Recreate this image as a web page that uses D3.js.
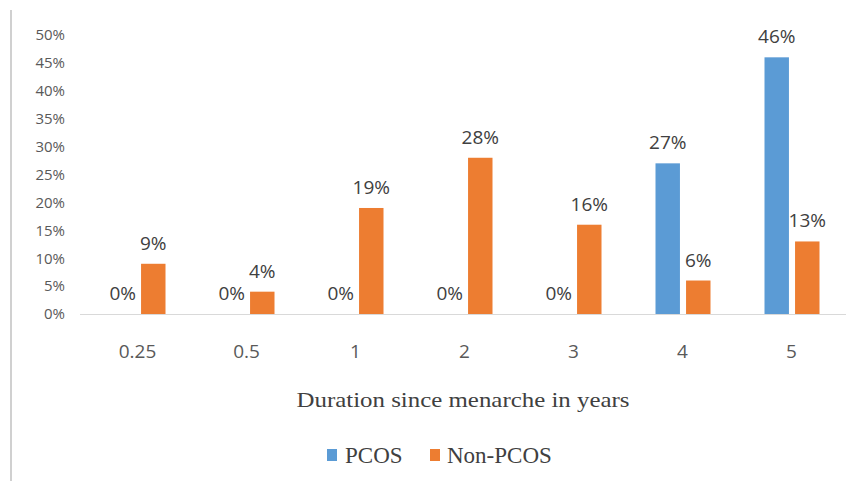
<!DOCTYPE html>
<html>
<head>
<meta charset="utf-8">
<script src="https://cdn.jsdelivr.net/npm/d3@7"></script>
<style>
  body { margin: 0; background: #fff; }
</style>
</head>
<body>
<div id="chart"></div>
<script>
var categories = ["0.25", "0.5", "1", "2", "3", "4", "5"];
var pcos = [0, 0, 0, 0, 0, 27, 46];
var nonPcos = [9, 4, 19, 28, 16, 6, 13];
var yTicks = [0, 5, 10, 15, 20, 25, 30, 35, 40, 45, 50];
var seriesNames = ["PCOS", "Non-PCOS"];
var colors = ["#5b9bd5", "#ed7d31"];

var svgWidth = 853;
var svgHeight = 481;
var labelFont = "'Open Sans', sans-serif";
var serifFont = "'Liberation Serif', 'Times New Roman', serif";

var svg = d3.select("#chart")
    .append("svg")
    .attr("width", svgWidth)
    .attr("height", svgHeight);

// left border line of the image
svg.append("line")
    .attr("x1", 11).attr("x2", 11)
    .attr("y1", 10).attr("y2", svgHeight)
    .attr("stroke", "#d0d0d0")
    .attr("stroke-width", 2);

var xScale = d3.scaleBand()
    .domain(categories)
    .range([83, 846]);

var yScale = d3.scaleLinear()
    .domain([0, 50])
    .range([314, 35]);

var subScale = d3.scaleBand()
    .domain(seriesNames)
    .range([-27, 28])
    .paddingInner(0.2);

// y axis labels
var yAxis = d3.axisLeft(yScale)
    .tickValues(yTicks)
    .tickFormat(d => d + "%")
    .tickSize(0)
    .tickPadding(0);

var yG = svg.append("g")
    .attr("transform", "translate(65,0)")
    .call(yAxis);
yG.select(".domain").remove();
yG.selectAll("text")
    .attr("fill", "#595959")
    .style("font-family", labelFont)
    .style("font-size", "15px");

// x axis
var xAxis = d3.axisBottom(xScale).tickSize(0).tickPadding(30);
var xG = svg.append("g")
    .attr("transform", "translate(0," + yScale(0) + ")")
    .call(xAxis);
xG.select(".domain")
    .attr("stroke", "#d9d9d9")
    .attr("d", "M80,0.5H846");
xG.selectAll("text")
    .attr("fill", "#595959")
    .attr("dy", 0)
    .style("font-family", labelFont)
    .style("font-size", "19px");
xG.selectAll("text").attr("y", 44);

var rows = categories.map((c, i) => ({ cat: c, values: [pcos[i], nonPcos[i]] }));

var groups = svg.selectAll("g.cat")
    .data(rows)
    .enter()
    .append("g")
    .attr("class", "cat")
    .attr("transform", d => "translate(" + (xScale(d.cat) + xScale.bandwidth() / 2) + ",0)");

var bars = groups.selectAll("rect")
    .data(d => d.values.map((v, j) => ({ name: seriesNames[j], value: v, j: j })))
    .enter();

bars.append("rect")
    .attr("x", d => subScale(d.name))
    .attr("width", subScale.bandwidth())
    .attr("y", d => yScale(d.value))
    .attr("height", d => yScale(0) - yScale(d.value))
    .attr("fill", d => colors[d.j]);

bars.append("text")
    .attr("x", d => subScale(d.name) + subScale.bandwidth() / 2)
    .attr("y", d => yScale(d.value) - 14)
    .attr("text-anchor", "middle")
    .attr("fill", "#404040")
    .style("font-family", labelFont)
    .style("font-size", "19px")
    .text(d => d.value + "%");

// axis title
svg.append("text")
    .attr("x", 463)
    .attr("y", 407)
    .attr("text-anchor", "middle")
    .attr("fill", "#404040")
    .attr("textLength", 333)
    .attr("lengthAdjust", "spacingAndGlyphs")
    .style("font-family", serifFont)
    .style("font-size", "22px")
    .text("Duration since menarche in years");

// legend
var legendX = [327, 430];
var legend = svg.selectAll("g.legend")
    .data(seriesNames)
    .enter()
    .append("g")
    .attr("class", "legend")
    .attr("transform", (d, i) => "translate(" + legendX[i] + ",463)");

legend.append("rect")
    .attr("x", 0)
    .attr("y", -14)
    .attr("width", 10)
    .attr("height", 12)
    .attr("fill", (d, i) => colors[i]);

legend.append("text")
    .attr("x", (d, i) => i === 0 ? 18 : 17)
    .attr("y", 0)
    .attr("fill", "#404040")
    .style("font-family", serifFont)
    .style("font-size", "23px")
    .text(d => d);
</script>
</body>
</html>
